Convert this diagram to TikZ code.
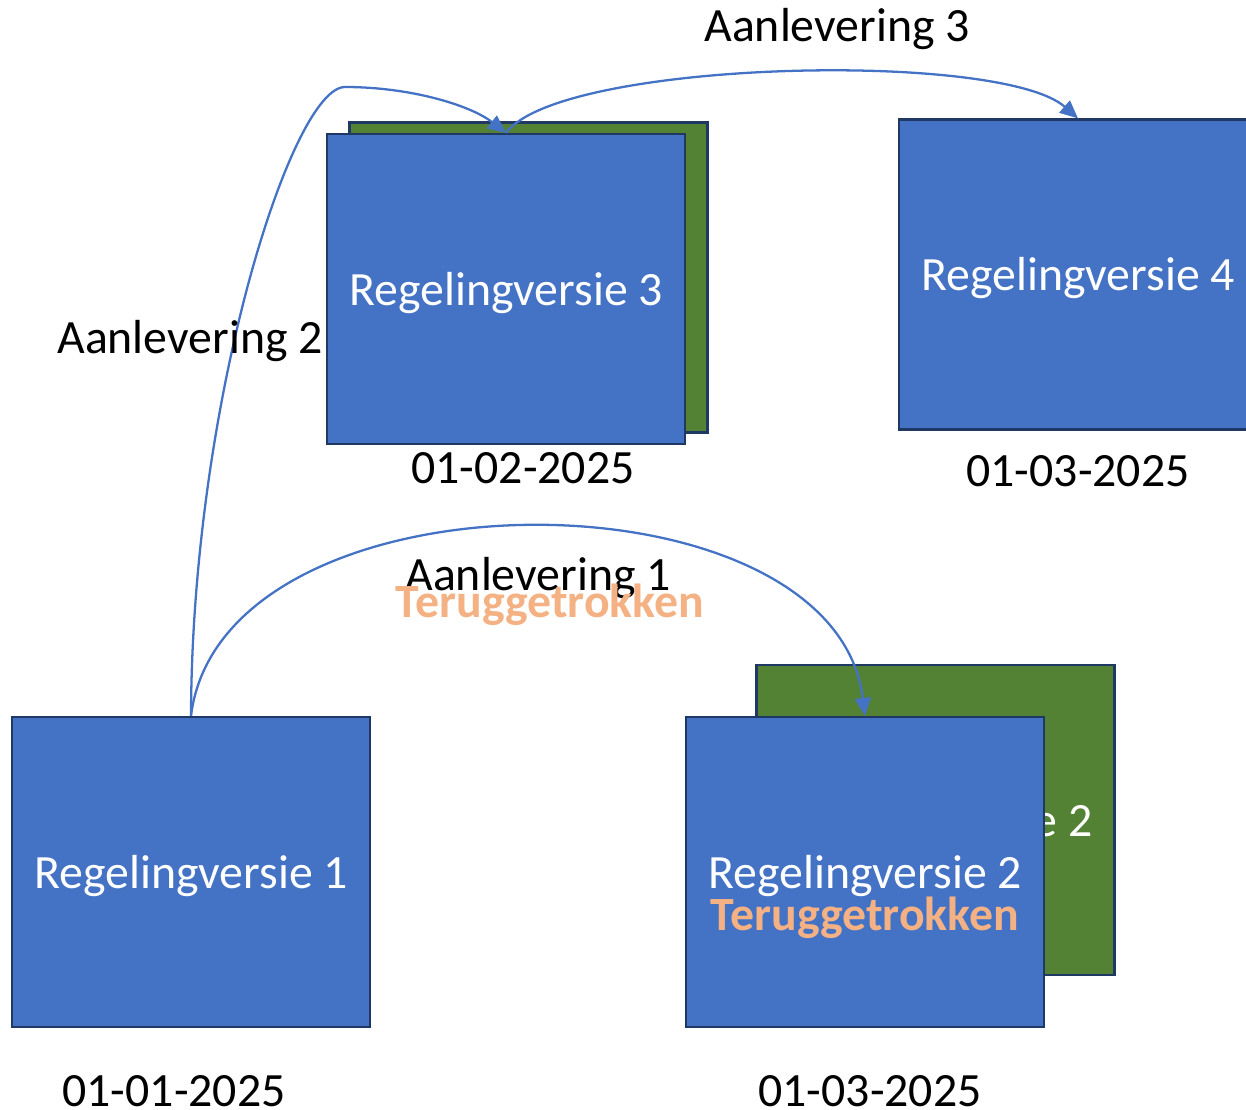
\documentclass[tikz,border=0pt]{standalone}
\usepackage{fontspec}
\setmainfont{Carlito}
\usetikzlibrary{arrows.meta}
\usetikzlibrary{positioning}
\definecolor{vBlue}{HTML}{4472C4}
\definecolor{vBorder}{HTML}{1F3864}
\definecolor{vGreen}{HTML}{548235}
\definecolor{vOrange}{HTML}{F4B183}
\newcommand{\versiefont}{\fontsize{27.2}{32}\selectfont}

\begin{document}
\begin{tikzpicture}[x=0.02cm,y=-0.02cm,
    versie/.style={draw=vBorder, line width=1.3pt, fill=vBlue, text=white,
        minimum width=7.16cm, minimum height=6.2cm, inner sep=0pt, font=\versiefont,
        text height=24.5pt, text depth=6pt},
    oud/.style={versie, fill=vGreen},
    terug/.style={text=vOrange, inner sep=0pt, font=\versiefont\bfseries,
        text height=24.5pt, text depth=6pt},
    tekst/.style={text=black, inner sep=0pt, font=\versiefont,
        text height=24.5pt, text depth=6pt},
    pijl/.style={draw=vBlue, line width=1.3pt, -{Triangle[length=0.36cm,width=0.32cm]}}]
            \useasboundingbox (0,0) rectangle (1246,1109);

            % Back versions (green)
            \node[oud] (v3oud) at (528.5,277.5) {};
            \node[oud] (v2oud) at (935.5,820) {Regelingversie 2};

            % Versions
            \node[versie] (v1) at (191,872) {Regelingversie 1};
            \node[versie] (v2) at (865,872) {Regelingversie 2};
            \node[versie] (v3) at (506,289) {Regelingversie 3};
            \node[versie] (v4) at (1078,274.5) {Regelingversie 4};
            \node[terug] (v2terug) at (865,914) {Teruggetrokken};

            % Dates
            \node[tekst] (d1) at (174,1090) {01-01-2025};
            \node[tekst] (d2) at (870,1090) {01-03-2025};
            \node[tekst] (d3) at (523,467) {01-02-2025};
            \node[tekst] (d4) at (1078,470) {01-03-2025};

            % Deliveries
            \draw[pijl] (v1.north) .. controls (222,464) and (834,464) .. (v2.north);
            \draw[pijl] (v1.north) .. controls (192,400) and (292,87) .. (345,87)
                .. controls (410,87) and (470,105) .. (v3.north);
            \draw[pijl] (v3.north) .. controls (560,60) and (1000,50) .. (v4.north);

            % Labels
            \node[tekst] (a1) at (538,574) {Aanlevering 1};
            \node[terug] (a1terug) at (550,601) {Teruggetrokken};
            \node[tekst] (a2) at (190,337) {Aanlevering 2};
            \node[tekst] (a3) at (837,25) {Aanlevering 3};

\end{tikzpicture}
\end{document}
